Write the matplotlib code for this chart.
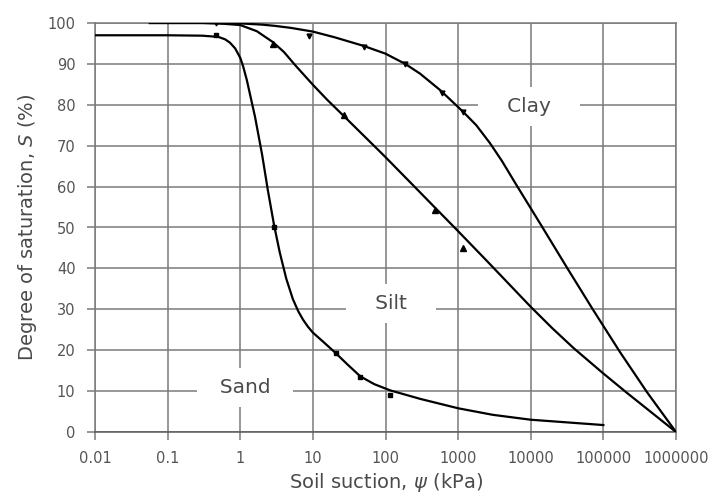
import numpy as np
import matplotlib
matplotlib.use('Agg')
import matplotlib.pyplot as plt
from matplotlib.ticker import FixedLocator, FixedFormatter, NullLocator

# soil water characteristic curves, suction in kPa, saturation in %
sand_x = [0.01, 0.1, 0.3, 0.5, 0.62, 0.72, 0.85, 1.0, 1.1, 1.23, 1.6, 2.0, 2.4, 2.92,
          3.5, 4.3, 5.3, 6.3, 7.3, 8.5, 10, 14, 20.6, 30, 45, 70, 115, 300, 1000,
          3000, 10000, 100000]
sand_y = [97, 97, 96.9, 96.6, 96.0, 95.2, 93.8, 91.5, 89.3, 86.1, 77, 67.8, 59.1, 50.6,
          43.9, 37.5, 32.5, 29.5, 27.5, 25.8, 24.3, 22, 19.3, 16.5, 13.6, 11.7, 10.2, 8.1, 5.8,
          4.2, 3.0, 1.7]

silt_x = [0.057, 0.3, 0.6, 1.0, 1.69, 2.83, 4.0, 5.7, 10, 15.6, 26.5, 76, 100, 270, 460,
          1000, 2560, 10000, 20000, 39000, 100000, 210000, 1000000]
silt_y = [100, 100, 99.8, 99.5, 98, 95.3, 92.9, 89.7, 84.9, 81.3, 77.3, 69.3, 67.2, 59.4, 55.2,
          49.1, 41.6, 30.6, 25.3, 20.5, 14.3, 9.6, 0]

clay_x = [0.057, 0.5, 1, 2, 3, 5, 10, 20, 50, 100, 187, 300, 565, 1170, 1780, 2750, 4000,
          6100, 10000, 14200, 31500, 72000, 170000, 400000, 1000000]
clay_y = [100, 100, 99.9, 99.6, 99.3, 98.8, 97.9, 96.5, 94.4, 92.5, 90, 87.6, 83.6, 78.3,
          75, 70.6, 66.3, 60.9, 54.7, 50.3, 40.2, 29.9, 19.5, 9.7, 0]

# measured points
sand_px = [0.47, 2.9, 20.6, 45, 115]
sand_py = [97, 50, 19.3, 13.4, 9.0]
silt_px = [2.83, 26.5, 480, 1170]
silt_py = [94.8, 77.4, 54.2, 45.1]
clay_px = [0.47, 8.9, 50, 187, 600, 1170]
clay_py = [100, 96.9, 94.2, 90, 83, 78.3]

xticks = [0.01, 0.1, 1, 10, 100, 1000, 10000, 100000, 1000000]
xticklabels = ['0.01', '0.1', '1', '10', '100', '1000', '10000', '100000', '1000000']
yticks = list(range(0, 101, 10))

# curve names and where they sit
names = ['   Clay   ', '   Silt   ', '  Sand  ']
name_x = [9500, 119, 1.16]
name_y = [79.5, 31.5, 10.8]

gridc = '#7a7a7a'
textc = '#4a4a4a'

fig = plt.figure(figsize=(7.27, 4.98), dpi=100)
ax = fig.add_axes([95/727, 1-432/498, 581/727, 409/498])

ax.plot(sand_x, sand_y, 'k-', lw=1.6, zorder=3)
ax.plot(silt_x, silt_y, 'k-', lw=1.6, zorder=3)
ax.plot(clay_x, clay_y, 'k-', lw=1.6, zorder=3)
ax.plot(sand_px, sand_py, 'ks', ms=3.5, zorder=4)
ax.plot(silt_px, silt_py, 'k^', ms=4, zorder=4)
ax.plot(clay_px, clay_py, 'kv', ms=3.5, zorder=4)

for t, x, y in zip(names, name_x, name_y):
    ax.text(x, y, t, fontsize=14.5, color=textc, ha='center', va='center', zorder=2,
            bbox=dict(boxstyle='square,pad=0.5', fc='white', ec='none'))

ax.set_xscale('log')
ax.set_xlim(0.01, 1000000)
ax.set_ylim(0, 100)
ax.xaxis.set_major_locator(FixedLocator(xticks))
ax.xaxis.set_major_formatter(FixedFormatter(xticklabels))
ax.xaxis.set_minor_locator(NullLocator())
ax.set_yticks(yticks)

ax.grid(True, color=gridc, lw=1.1, zorder=0)
ax.set_axisbelow(True)
for s in ax.spines.values():
    s.set_color(gridc)
    s.set_linewidth(1.1)
ax.spines['bottom'].set_color('#5a5a5a')
ax.tick_params(direction='out', length=6, width=1.1, color=gridc,
               labelsize=10.5, labelcolor='#555555', pad=8)

ax.set_xlabel('Soil suction, $\\psi$ (kPa)', fontsize=14, color=textc, labelpad=3)
ax.set_ylabel('Degree of saturation, $S$ (%)', fontsize=14, color=textc, labelpad=6)

fig.savefig('out.png', dpi=100)
